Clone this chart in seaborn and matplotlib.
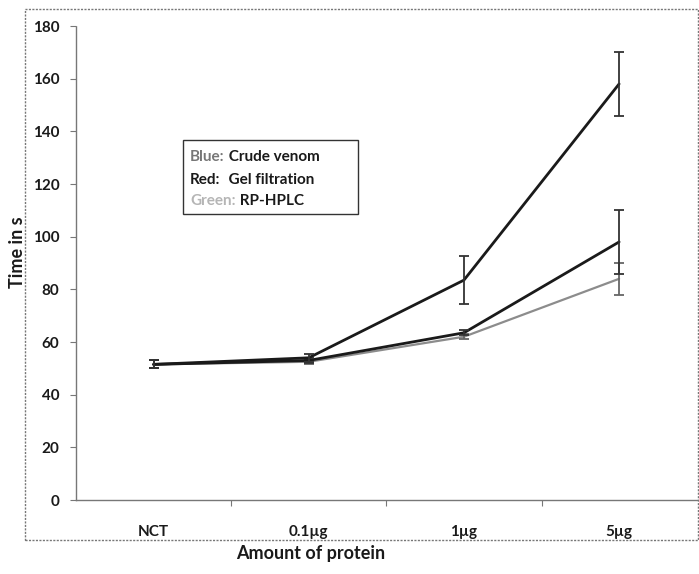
import matplotlib
matplotlib.use("Agg")
import matplotlib.pyplot as plt
from matplotlib.patches import Rectangle
import seaborn as sns
import pandas as pd

# Clotting time per protein dose, three purification stages
doses = ["NCT", "0.1µg", "1µg", "5µg"]
crude_venom = [51.5, 54.0, 83.5, 158.0]
crude_venom_err = [1.5, 1.5, 9.0, 12.0]
gel_filtration = [51.5, 53.0, 63.5, 98.0]
gel_filtration_err = [1.5, 1.0, 1.0, 12.0]
rp_hplc = [51.5, 52.5, 62.0, 84.0]
rp_hplc_err = [1.5, 1.0, 1.0, 6.0]
y_ticks = [0, 20, 40, 60, 80, 100, 120, 140, 160, 180]

series = {
    "Crude venom": (crude_venom, crude_venom_err),
    "Gel filtration": (gel_filtration, gel_filtration_err),
    "RP-HPLC": (rp_hplc, rp_hplc_err),
}
rows = []
for name, (vals, errs) in series.items():
    for d, v, e in zip(doses, vals, errs):
        rows.append({"dose": d, "time": v, "err": e, "fraction": name})
df = pd.DataFrame(rows)

sns.set_theme(style="white")
plt.rcParams["font.family"] = ["Lato", "DejaVu Sans"]

fig = plt.figure(figsize=(6.99, 5.74), dpi=100)
ax = fig.add_axes([0.1087, 0.1289, 0.888, 0.8258])

styles = {
    "Crude venom": dict(color="#1a1a1a", lw=2.0, z=4),
    "Gel filtration": dict(color="#1a1a1a", lw=2.0, z=3),
    "RP-HPLC": dict(color="#8c8c8c", lw=1.6, z=2),
}
pos = {d: i for i, d in enumerate(doses)}
for name, st in styles.items():
    sub = df[df["fraction"] == name].copy()
    sub["x"] = sub["dose"].map(pos)
    sns.lineplot(data=sub, x="x", y="time", ax=ax, color=st["color"],
                 linewidth=st["lw"], zorder=st["z"], legend=False)
    ax.errorbar(sub["x"], sub["time"], yerr=sub["err"], fmt="none",
                ecolor="#333333" if name != "RP-HPLC" else "#666666",
                elinewidth=1.3, capsize=3.5, capthick=1.3, zorder=st["z"])

ax.set_xlim(-0.5, 3.5)
ax.set_ylim(0, 180)
ax.set_yticks(y_ticks)
ax.set_xticks(range(len(doses)))
ax.set_xticklabels(doses)
ax.set_xticks([0.5, 1.5, 2.5], minor=True)
ax.tick_params(axis="x", which="major", length=0, pad=18, labelsize=11)
ax.tick_params(axis="x", which="minor", length=4, width=0.8, color="#777777",
               direction="out", bottom=True)
ax.tick_params(axis="y", length=4, width=0.8, color="#777777", direction="out",
               left=True, labelsize=11, pad=8)
for lab in ax.get_xticklabels() + ax.get_yticklabels():
    lab.set_fontweight("bold")
    lab.set_color("#1a1a1a")

for side in ["top", "right"]:
    ax.spines[side].set_visible(False)
for side in ["left", "bottom"]:
    ax.spines[side].set_color("#777777")
    ax.spines[side].set_linewidth(1.0)
    ax.spines[side].set_linestyle((0, (2, 1)))
ax.set_xlabel("")
ax.set_ylabel("")
ax.grid(False)

fig.text(0.025, 0.56, "Time in s", rotation=90, ha="center", va="center",
         fontsize=13, fontweight="bold", color="#1a1a1a")
fig.text(0.445, 0.035, "Amount of protein", ha="center", va="center",
         fontsize=13, fontweight="bold", color="#1a1a1a")

# Dotted frame around the chart area
fig.add_artist(Rectangle((0.036, 0.059), 0.962, 0.925, transform=fig.transFigure,
                         fill=False, edgecolor="#777777", linewidth=1.0,
                         linestyle=(0, (1.5, 1))))

# Key box naming each line
fig.add_artist(Rectangle((0.262, 0.627), 0.25, 0.129, transform=fig.transFigure,
                         fill=False, edgecolor="#333333", linewidth=1.0))
key = [("Blue:", "#777777", " Crude venom"),
       ("Red:", "#1a1a1a", "  Gel filtration"),
       ("Green:", "#b5b5b5", " RP-HPLC")]
ys = [0.726, 0.686, 0.649]
for (lbl, col, txt), y in zip(key, ys):
    t = fig.text(0.272, y, lbl, fontsize=11, fontweight="bold", color=col,
                 va="center", ha="left")
    fig.canvas.draw()
    bb = t.get_window_extent().transformed(fig.transFigure.inverted())
    fig.text(bb.x1, y, txt, fontsize=11, fontweight="bold", color="#1a1a1a",
             va="center", ha="left")

fig.savefig("out.png", dpi=100, facecolor="white")
